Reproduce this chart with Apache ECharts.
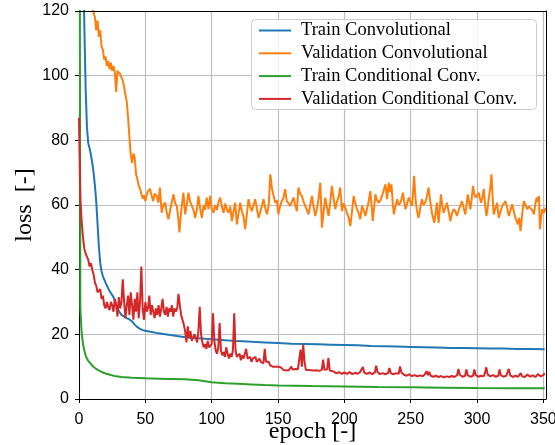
<!DOCTYPE html>
<html>
<head>
<meta charset="utf-8">
<script src="https://cdn.jsdelivr.net/npm/echarts@6/dist/echarts.min.js"></script>
<style>html,body{margin:0;padding:0;background:#fff}#c{width:555px;height:445px}</style>
</head>
<body>
<div id="c"></div>
<script>
const seriesNames = ['Train Convolutional', 'Validation Convolutional', 'Train Conditional Conv.', 'Validation Conditional Conv.'];
const xTicks = [0, 50, 100, 150, 200, 250, 300, 350];
const yTicks = [0, 20, 40, 60, 80, 100, 120];

const trainConv = [[0,260],[1,210],[2,170],[3,140],[4,116],[5,96],[6,84],[7,79],[8,77.5],[9,75.5],[10,73],[11,70],[12,66],[13,61],[14,54],[15,47],[16,42],[17,39.5],[18,38],[19,37],[20,36],[22,34.2],[24,32.8],[26,31.5],[28,29.2],[30,27.2],[32,26],[34,25.5],[36,25],[38,24.6],[40,24],[42,23],[44,22.2],[46,21.7],[48,21.3],[50,21.1],[55,20.7],[60,20.3],[65,20],[70,19.7],[75,19.4],[80,19.1],[85,18.9],[90,18.8],[95,18.6],[100,18.5],[110,18.2],[120,17.9],[130,17.7],[140,17.5],[150,17.3],[160,17.1],[170,17.0],[180,16.9],[190,16.8],[200,16.7],[210,16.6],[220,16.4],[230,16.3],[240,16.2],[250,16.1],[260,16.0],[270,15.9],[280,15.8],[290,15.8],[300,15.7],[310,15.6],[320,15.6],[330,15.5],[340,15.5],[351,15.4]];

const valConv = [[0,190],[2,160],[4,142],[6,132],[8,126],[10,121.5],[11,119.5],[12,118],[13,114],[14,117],[15,112],[16,114],[17,109],[18,108],[19,105],[20,106],[21,103],[22,104.5],[23,102],[24,104],[25,101.5],[26,103],[27,101],[28,95],[29,101.5],[30,102],[31,100.5],[32,100],[33,98.5],[34,96.5],[35,94],[36,92],[37,87],[38,81],[39,75.5],[40,73],[41,76],[42,74.5],[43,69.5],[44,68],[45,66],[46,65],[47,63.5],[48,62],[49,63],[50,61.2],
[51,63],[52,64.3],[53.5,65],[55,62.5],[56,61.2],[57,63.5],[58.6,62.8],[59.8,60.7],[61,65.4],[62.3,57.6],[63.5,60],[65,60.7],[66,58],[67.4,55.6],[69,59],[70,61],[71.2,63.3],[72.5,60.5],[73.7,59.7],[74.8,56],[75.7,51.5],[77,58],[78.7,63.8],[80,57.1],[81.2,60],[82.5,63.8],[83.8,61],[85,60.7],[86.3,58.5],[87.6,56],[89,59],[90,62.8],[91.3,59],[92.6,56],[94,60],[95,58.5],[96.3,62.3],[97.6,58.7],[98.9,62.8],[100,59],[101.4,57.6],[102.7,60],[104,58.5],[105.2,61],[106.4,62.3],[107.7,59.5],[109,57.6],[110.3,60.5],[111.5,58.5],[112.7,57.6],[114,59.5],[115.2,55],[116.5,58],[117.7,60.7],[119,54],[120.3,57.5],[121.5,60.7],[122.8,58],[124,56.5],[125.3,52.5],[126.5,57],[127.8,61.8],[129,59.5],[130.3,58.1],[131.5,60],[132.8,61.8],[134,59],[135.4,56],[136.7,58],[138,60],[139.1,61.8],[140.4,59],[141.7,57.1],[143,60],[144.2,69.5],[145.5,65],[146.7,62.8],[148,60.7],[149.2,61.5],[150.3,57.1],[151.5,59.5],[152.8,61.2],[154,62],[155.4,64.9],[156.6,61.2],[158,60.5],[159.1,59.7],[160.4,61],[161.7,62.3],[163,60],[164.2,58.1],[165.4,65.4],[166.7,63.5],[168,62.8],[169.3,61],[170.5,59.7],[171.8,58.5],[173,57.1],[174.3,60],[175.6,62.8],[176.8,59.5],[178.1,56.6],[179.4,59],[180.6,62],[181.9,66.9],[183.1,53],[184.4,58],[185.6,62.3],[186.8,59.5],[188.1,56.6],[189.4,61],[190.6,65.9],[191.9,62],[193.2,58.7],[194.4,61],[195.7,62.5],[196.9,65.4],[198.2,58.1],[199.4,60.5],[200.7,59.2],[202,57.5],[203.3,56],[204.5,53.5],[205.8,58],[207,62.8],[208.3,60.5],[209.5,58.7],[210.8,57.5],[212,55.6],[213.3,59.7],[214.5,58.5],[215.8,56.6],[217,58.5],[218.3,61],[219.6,64.3],[220.5,60],[221.4,55],[222.4,59],[223.4,63.3],[224.6,61.5],[225.9,60.7],[227.2,61.5],[228.4,62.8],[229.7,63],[231,66.4],[232.2,61.8],[233.5,66.9],[234.5,64],[235.5,66.4],[236.4,61],[237.3,57.1],[238.5,59.5],[239.8,61.8],[241,60],[242.3,60.7],[243.2,62],[244.1,63.8],[245.1,61],[246.1,58.7],[247.3,60.5],[248.6,62.3],[249.8,61],[251.1,59.7],[252.6,69],[253.6,62],[254.6,58.7],[255.9,56],[257.2,59],[258.4,61.8],[259.7,60],[260.9,60.7],[262.2,62.5],[263.5,65.4],[264.8,61],[266,57.6],[266.9,56],[267.8,54.5],[268.8,57.5],[269.8,60.7],[270.5,57],[271.1,54.5],[272,59],[272.8,63.3],[273.8,60],[274.8,57.6],[276,59],[277.3,60.7],[278.6,58],[279.9,55],[281.2,57.5],[282.4,58.7],[283.7,58],[284.9,56.6],[286.2,58.5],[287.4,59.7],[288.7,61.2],[290,59],[291.2,57.1],[292.1,60],[293,63.3],[294,61],[295,58.7],[296,62],[297,65.9],[297.9,63.5],[298.8,62.3],[300,63],[301.3,63.8],[302.2,62],[303.1,60.7],[304.1,62.5],[305.1,64.9],[306.1,60],[307.1,56.6],[308,59],[308.8,61.8],[309.9,65],[310.9,69.5],[311.8,62],[312.6,57.1],[313.9,59],[315.2,60.7],[315.8,58],[316.4,56],[317.7,58],[319,59.7],[320.3,60.5],[321.5,61.2],[322.8,59],[324,56.6],[325.3,58.5],[326.5,60.2],[327.8,58],[329,56],[330.8,54],[331.8,56],[332.8,51.9],[334,57],[335.3,61.2],[336.5,60],[337.8,58.7],[339.1,59.5],[340.4,59.7],[341.6,58.5],[342.9,57.1],[343.9,60],[344.9,62.3],[345.8,61],[346.7,62.8],[347.4,52.5],[348.3,56],[349.2,58.7],[350.5,57.6],[351.7,59.2]];

const trainCond = [[0,300],[1,28],[2,20.5],[3,17],[4,15],[5,13.5],[6,12.5],[7,11.8],[8,11.2],[10,10.3],[12,9.6],[14,9.0],[16,8.6],[18,8.2],[20,7.9],[24,7.4],[28,7.0],[32,6.8],[40,6.6],[50,6.4],[60,6.3],[70,6.2],[80,6.1],[90,5.8],[100,5.2],[110,4.9],[120,4.7],[130,4.5],[140,4.3],[150,4.2],[175,4.0],[200,3.9],[225,3.7],[250,3.6],[275,3.5],[300,3.4],[325,3.35],[351,3.3]];

const valCond = [[0,87],[1,62],[2,55],[3,50],[4,46.5],[5,45],[6,44.5],[7,43],[8,41],[9,42],[10,40],[11,38.5],[12,36],[13,35],[14,33],[15,32.5],[16,34],[17,31],[18,32],[19,29],[20,28],[21,30],[22,28.5],[23,27.5],[24,30],[25,29],[26,27],[27,31],[28,29],[29,25.5],[30,31.5],[31,28],[32,30],[33,37],[34,30],[35,25],[36,29],[37,32],[38,26],[39,33],[40,29],[41,24.5],[42,31],[43,27],[44,33],[45,25],[46,30],[47,41],[48,28],[49,24.5],[50,30],[51,27],[52,28],[53,32],[54,26],[55,29],[56,27],[57,25],[58,28],[59,26],[60,29],[61,25.5],[62,28],[63,31],[64,27],[65,26],[66,28.5],[67,25.5],[68,28],[69,27],[70,29],[71,25.5],[72,28],[73,27],[74,28],[75,32.5],[76,29],[77,26],[78,24.5],[79,23],[80,21],[81,17.5],[82,22.5],[83,19],[84,21],[85,18],[86,17.5],[87,20],[88,19],[89,17.5],[90,21],[91,28.5],[92,20],[93,17.5],[94,16],[95,17],[96,15.5],[97,18],[98,16],[99,15.5],[100,17],[101,26.5],[102,18],[103,15],[104,14],[105,16],[106,23.5],[107,15],[108,13.5],[109,14.5],[110,13],[111,16],[112,14],[113,12.5],[114,14],[115,13],[116,15],[117,26.5],[118,15],[119,13],[120,12.5],[121,14],[122,12],[123,13.5],[124,12.5],[125,13],[126,15.5],[127,12.5],[128,12],[129,13],[130,11.5],[131,12.5],[132,12],[133,13],[134,11.5],[135,12],[136,12.5],[137,11.5],[138,12],[139,11],[140,15.5],[141,11.5],[142,11],[143,11.5],[144,10.5],[145,11],[146,10],[147,10.5],[148,10],[149,9.5],[150,10],[151,9.5],[152,9.8],
[153,9.4],[154,9.0],[155,9.5],[156,8.9],[157,9.3],[158,8.8],[159,9.4],[160,10.0],[161,9.1],[162,8.8],[163,9.3],[164,8.7],[165,9.2],[166,9.0],[167,15.3],[168,10.0],[169,16.8],[170,11.5],[171,9.0],[172,8.6],[173,9.0],[174,8.5],[175,8.9],[176,8.4],[177,8.8],[178,8.3],[179,8.9],[180,8.4],[181,8.7],[182,8.3],[183,9.0],[184,12.2],[185,9.0],[186,8.4],[187,9.2],[188,12.7],[189,8.8],[190,8.2],[192,8.5],[194,7.9],[196,8.3],[198,7.8],[200,8.2],[202,7.8],[204,8.3],[206,7.7],[208,8.1],[210,7.8],[212,8.4],[213,8.0],[214,9.9],[215,8.2],[217,7.8],[219,8.2],[221,7.7],[223,8.2],[224,10.3],[225,8.3],[227,7.7],[229,8.0],[231,7.6],[233,8.1],[234,9.6],[235,8.0],[237,7.6],[239,8.0],[241,7.8],[242,10.1],[243,8.2],[245,7.5],[247,7.2],[249,7.6],[251,7.1],[253,7.4],[255,7.0],[257,7.3],[259,7.0],[261,7.8],[262,8.6],[263,7.4],[264,8.4],[265,7.2],[267,6.9],[269,7.2],[271,6.8],[273,7.1],[275,6.7],[277,7.0],[279,6.8],[281,7.1],[283,6.8],[285,7.4],[286,9.3],[287,7.5],[289,6.9],[291,7.2],[292,9.1],[293,7.3],[295,6.9],[297,7.2],[298,9.1],[299,7.4],[301,6.9],[303,7.2],[305,7.0],[306,8.0],[307,9.8],[308,7.6],[310,7.0],[312,7.4],[314,6.9],[316,7.2],[317,9.1],[318,7.3],[320,6.9],[322,7.2],[324,9.3],[325,7.4],[327,6.8],[329,7.2],[331,6.9],[333,8.0],[334,7.0],[336,6.8],[338,7.6],[340,6.9],[342,7.3],[344,6.8],[346,7.7],[348,7.0],[350,7.4],[351,8.0]];

const colors = ['#1f77b4', '#ff7f0e', '#2ca02c', '#d62728'];
const allData = [trainConv, valConv, trainCond, valCond];

const chart = echarts.init(document.getElementById('c'), null, {renderer: 'canvas'});
const G = {left: 79, right: 9, top: 11, bottom: 46};
const tickFont = {fontFamily: 'Liberation Sans', fontSize: 16, color: '#000'};
const serif = 'Liberation Serif';
const X_MAX = 352, Y_MAX = 120;
const borderAxis = {
  show: true, z: 10, silent: true,
  axisLine: {show: true, onZero: false, lineStyle: {color: '#000', width: 1}},
  axisTick: {show: false}, axisLabel: {show: false}, splitLine: {show: false}
};
chart.setOption({
  animation: false,
  backgroundColor: '#fff',
  grid: {left: G.left, right: G.right, top: G.top, bottom: G.bottom, containLabel: false, outerBoundsMode: 'none'},
  xAxis: [{
    type: 'value', min: 0, max: X_MAX, interval: 50,
    name: 'epoch [-]', nameLocation: 'middle', nameGap: 21, nameMoveOverlap: false,
    nameTextStyle: {fontFamily: serif, fontSize: 24, color: '#000'},
    axisLine: {show: true, onZero: false, lineStyle: {color: '#000', width: 1}},
    axisTick: {show: true, length: 4, lineStyle: {color: '#000'}, customValues: xTicks},
    axisLabel: Object.assign({margin: 13, customValues: xTicks}, tickFont),
    splitLine: {show: true, lineStyle: {color: '#bdbdbd', width: 1.2}}
  }, Object.assign({type: 'value', position: 'top', min: 0, max: X_MAX}, borderAxis)],
  yAxis: [{
    type: 'value', min: 0, max: Y_MAX, interval: 20,
    name: 'loss  [-]', nameLocation: 'middle', nameGap: 42, nameMoveOverlap: false,
    nameTextStyle: {fontFamily: serif, fontSize: 24, color: '#000'},
    axisLine: {show: true, onZero: false, lineStyle: {color: '#000', width: 1}},
    axisTick: {show: true, length: 4, lineStyle: {color: '#000'}},
    axisLabel: Object.assign({margin: 10}, tickFont),
    splitLine: {show: true, lineStyle: {color: '#bdbdbd', width: 1.2}}
  }, Object.assign({type: 'value', position: 'right', min: 0, max: Y_MAX}, borderAxis)],
  legend: {
    orient: 'vertical', left: 258, top: 21,
    itemWidth: 32, itemHeight: 18, itemGap: 3.8,
    padding: 0,
    itemStyle: {opacity: 0},
    textStyle: {fontFamily: serif, fontSize: 18.5, color: '#000', lineHeight: 18, padding: [0, 0, 0, 5]},
    data: seriesNames
  },
  graphic: [
    {type: 'rect', z: 3, shape: {x: 251.5, y: 19.5, width: 285, height: 90, r: 4},
     style: {fill: 'rgba(255,255,255,0.8)', stroke: '#cccccc', lineWidth: 1}}
  ],
  series: allData.map((d, i) => ({
    name: seriesNames[i], type: 'line', data: d, symbol: 'none', clip: true,
    xAxisIndex: 0, yAxisIndex: 0,
    lineStyle: {color: colors[i], width: 2}, itemStyle: {color: colors[i]}
  }))
});
</script>
</body>
</html>
